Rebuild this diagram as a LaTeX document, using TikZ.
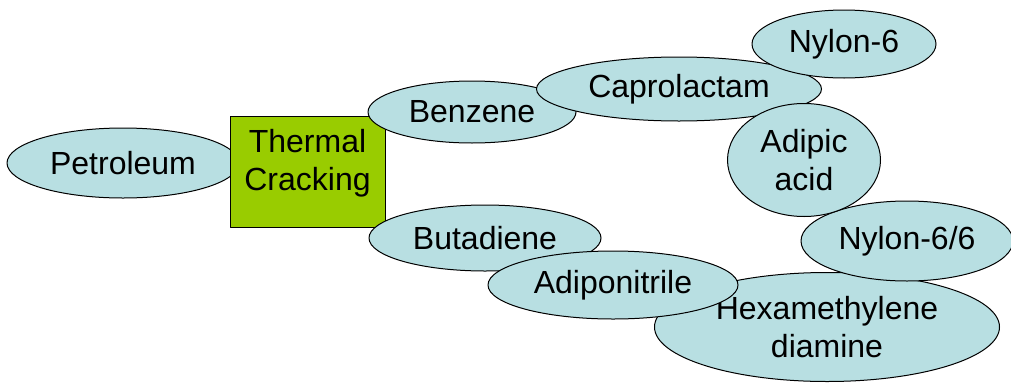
\documentclass[tikz,border=0pt]{standalone}
\usepackage{fontspec}
\setmainfont{Liberation Sans}
\usetikzlibrary{shapes.geometric}
\definecolor{chemblue}{RGB}{184,223,226}
\definecolor{crackgreen}{RGB}{153,204,0}

\begin{document}
\begin{tikzpicture}[x=1pt,y=-1pt,line join=round,
  chem/.style={ellipse,draw,line width=1pt,fill=chemblue,inner sep=0pt,align=center,
    font=\fontsize{32}{38}\selectfont},
  stagebox/.style={rectangle,draw,line width=1pt,fill=crackgreen,inner sep=0pt}]
 \useasboundingbox (0,0) rectangle (1011,383);
 % feedstock and cracking
 \node[chem,minimum width=232pt,minimum height=70pt] (petroleum) at (123,163) {Petroleum};
 \node[stagebox,minimum width=155pt,minimum height=111pt,
   label={[align=center,font=\fontsize{32}{38}\selectfont,yshift=8pt]center:Thermal\\Cracking}]
   (cracking) at (307.5,171.5) {};
 % nylon-6 branch
 \node[chem,minimum width=208pt,minimum height=62pt] (benzene) at (472,112) {Benzene};
 \node[chem,minimum width=285pt,minimum height=64pt] (caprolactam) at (679,89) {Caprolactam};
 \node[chem,minimum width=184pt,minimum height=68pt] (nylon6) at (844,44) {Nylon-6};
 % nylon-6/6 branch
 \node[chem,minimum width=232pt,minimum height=66pt] (butadiene) at (485,238) {Butadiene};
 \node[chem,minimum width=345pt,minimum height=109pt] (hexa) at (827,327) {Hexamethylene\\diamine};
 \node[chem,minimum width=250pt,minimum height=68pt] (adiponitrile) at (613,285) {Adiponitrile};
 \node[chem,minimum width=212pt,minimum height=80pt] (nylon66) at (907,241) {Nylon-6/6};
 \node[chem,minimum width=153pt,minimum height=113pt] (adipic) at (804,160) {Adipic\\acid};
\end{tikzpicture}
\end{document}
